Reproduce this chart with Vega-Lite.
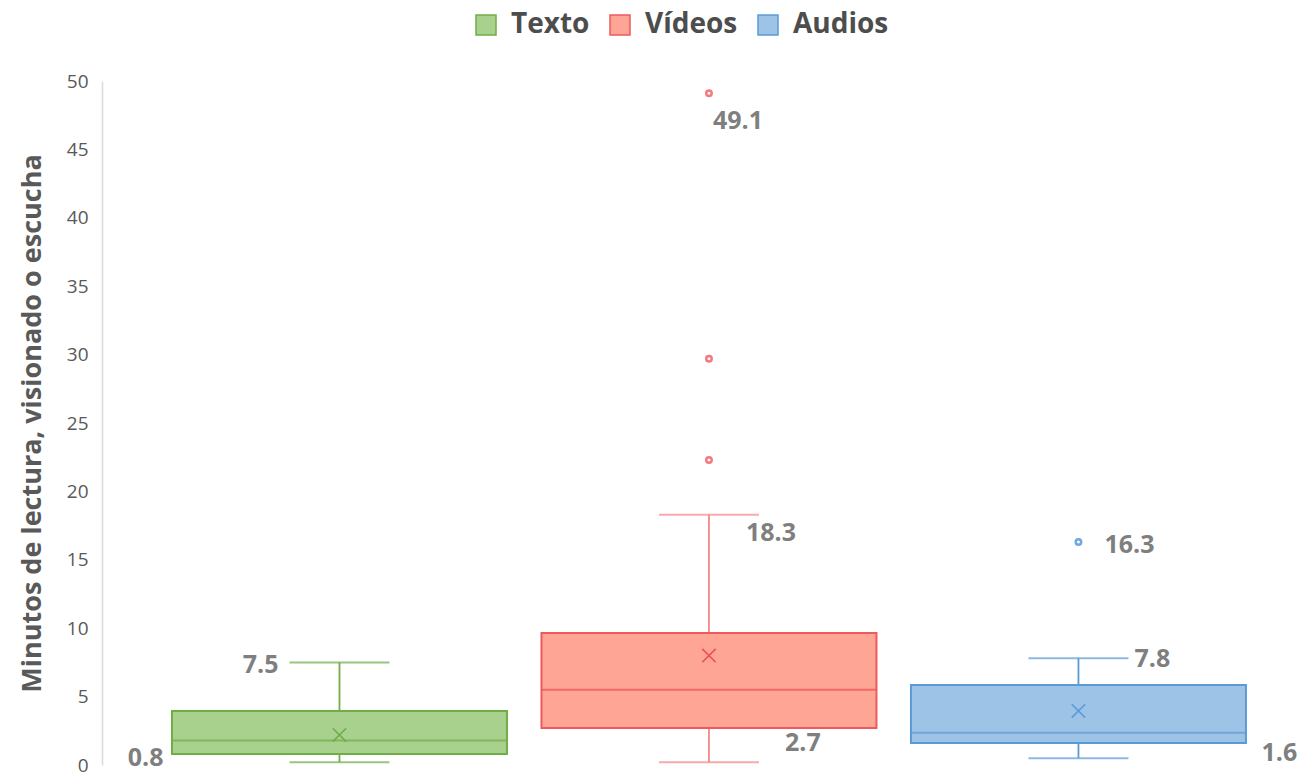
{
  "$schema": "https://vega.github.io/schema/vega-lite/v6.json",
  "width": 1163,
  "height": 684,
  "autosize": {"type": "none"},
  "padding": {"left": 102, "top": 81, "right": 38, "bottom": 11},
  "background": "white",
  "datasets": {
    "summary": [
      {"cat": "Texto", "lower": 0.2, "q1": 0.8, "median": 1.8, "q3": 3.95, "upper": 7.5, "mean": 2.2},
      {"cat": "Vídeos", "lower": 0.2, "q1": 2.7, "median": 5.5, "q3": 9.65, "upper": 18.3, "mean": 8.0},
      {"cat": "Audios", "lower": 0.5, "q1": 1.6, "median": 2.35, "q3": 5.85, "upper": 7.8, "mean": 3.95}
    ],
    "outliers": [
      {"cat": "Vídeos", "value": 22.3},
      {"cat": "Vídeos", "value": 29.7},
      {"cat": "Vídeos", "value": 49.1},
      {"cat": "Audios", "value": 16.3}
    ],
    "labels": [
      {"cat": "Texto", "stat": "q1", "value": 0.8},
      {"cat": "Texto", "stat": "upper", "value": 7.5},
      {"cat": "Vídeos", "stat": "max", "value": 49.1},
      {"cat": "Vídeos", "stat": "upper", "value": 18.3},
      {"cat": "Vídeos", "stat": "q1", "value": 2.7},
      {"cat": "Audios", "stat": "max", "value": 16.3},
      {"cat": "Audios", "stat": "upper", "value": 7.8},
      {"cat": "Audios", "stat": "q1", "value": 1.6}
    ]
  },
  "config": {
    "view": {"stroke": null},
    "font": "Open Sans",
    "axisY": {
      "labelFont": "Open Sans",
      "labelFontSize": 19,
      "labelColor": "#595959",
      "labelPadding": 14,
      "domainColor": "#d9d9d9",
      "domainWidth": 1.5,
      "ticks": false,
      "grid": false,
      "titleFont": "Open Sans",
      "titleFontSize": 27,
      "titleFontWeight": "bold",
      "titleColor": "#595959",
      "titlePadding": 20
    },
    "legend": {
      "labelFont": "Open Sans",
      "labelFontSize": 28,
      "labelFontWeight": "bold",
      "labelColor": "#4d4d4d",
      "symbolType": "square",
      "symbolSize": 400,
      "symbolStrokeWidth": 1.5,
      "labelOffset": 11,
      "columnPadding": 16,
      "padding": 0
    }
  },
  "encoding": {
    "x": {
      "field": "cat",
      "type": "nominal",
      "sort": ["Texto", "Vídeos", "Audios"],
      "scale": {"domain": ["Texto", "Vídeos", "Audios"], "paddingInner": 0.0934, "paddingOuter": 0.1205, "align": 0.786},
      "axis": null
    }
  },
  "layer": [
    {
      "data": {"name": "summary"},
      "mark": {"type": "rule", "strokeWidth": 1.8},
      "encoding": {
        "y": {"field": "lower", "type": "quantitative", "scale": {"domain": [0, 50], "nice": false}, "axis": {"values": [0, 5, 10, 15, 20, 25, 30, 35, 40, 45, 50]}, "title": "Minutos de lectura, visionado o escucha"},
        "y2": {"field": "upper"},
        "color": {"field": "cat", "type": "nominal", "scale": {"domain": ["Texto", "Vídeos", "Audios"], "range": ["#70ad47", "#f4868a", "#5b9bd5"]}, "legend": null}
      }
    },
    {
      "data": {"name": "summary"},
      "mark": {"type": "tick", "size": 100, "thickness": 2},
      "encoding": {
        "y": {"field": "upper", "type": "quantitative", "title": "Minutos de lectura, visionado o escucha"},
        "color": {"field": "cat", "type": "nominal", "scale": {"domain": ["Texto", "Vídeos", "Audios"], "range": ["#70ad47", "#f4868a", "#5b9bd5"]}, "legend": null}
      }
    },
    {
      "data": {"name": "summary"},
      "mark": {"type": "tick", "size": 100, "thickness": 2},
      "encoding": {
        "y": {"field": "lower", "type": "quantitative", "title": "Minutos de lectura, visionado o escucha"},
        "color": {"field": "cat", "type": "nominal", "scale": {"domain": ["Texto", "Vídeos", "Audios"], "range": ["#70ad47", "#f4868a", "#5b9bd5"]}, "legend": null}
      }
    },
    {
      "data": {"name": "summary"},
      "mark": {"type": "bar", "strokeWidth": 2, "opacity": 1},
      "encoding": {
        "y": {"field": "q1", "type": "quantitative", "title": "Minutos de lectura, visionado o escucha"},
        "y2": {"field": "q3"},
        "fill": {"field": "cat", "type": "nominal", "sort": ["Texto", "Vídeos", "Audios"], "scale": {"domain": ["Texto", "Vídeos", "Audios"], "range": ["#a9d18e", "#ffa596", "#9dc3e6"]}, "legend": {"title": null, "orient": "none", "direction": "horizontal", "legendX": 370, "legendY": -70}},
        "stroke": {"field": "cat", "type": "nominal", "sort": ["Texto", "Vídeos", "Audios"], "scale": {"domain": ["Texto", "Vídeos", "Audios"], "range": ["#70ad47", "#f0595c", "#5b9bd5"]}, "legend": {"title": null, "orient": "none", "direction": "horizontal", "legendX": 370, "legendY": -70}}
      }
    },
    {
      "data": {"name": "summary"},
      "mark": {"type": "tick", "size": 335, "thickness": 2},
      "encoding": {
        "y": {"field": "median", "type": "quantitative", "title": "Minutos de lectura, visionado o escucha"},
        "color": {"field": "cat", "type": "nominal", "scale": {"domain": ["Texto", "Vídeos", "Audios"], "range": ["#70ad47", "#ec4f53", "#5b9bd5"]}, "legend": null}
      }
    },
    {
      "data": {"name": "summary"},
      "mark": {"type": "point", "shape": "M-1,-1L1,1M-1,1L1,-1", "filled": false, "size": 180, "strokeWidth": 1.6, "opacity": 1},
      "encoding": {
        "y": {"field": "mean", "type": "quantitative", "title": "Minutos de lectura, visionado o escucha"},
        "color": {"field": "cat", "type": "nominal", "scale": {"domain": ["Texto", "Vídeos", "Audios"], "range": ["#70ad47", "#ec4f53", "#5b9bd5"]}, "legend": null}
      }
    },
    {
      "data": {"name": "outliers"},
      "mark": {"type": "point", "shape": "circle", "filled": false, "size": 30, "strokeWidth": 2.5, "opacity": 1},
      "encoding": {
        "y": {"field": "value", "type": "quantitative", "title": "Minutos de lectura, visionado o escucha"},
        "color": {"field": "cat", "type": "nominal", "scale": {"domain": ["Texto", "Vídeos", "Audios"], "range": ["#70ad47", "#f47a7e", "#6fa8dc"]}, "legend": null}
      }
    },
    {
      "data": {"name": "labels"},
      "transform": [{"filter": "datum.cat === 'Texto' && datum.stat === 'q1'"}],
      "mark": {"type": "text", "align": "right", "baseline": "middle", "dx": -176, "dy": 4, "fontSize": 25, "fontWeight": "bold", "color": "#7f7f7f"},
      "encoding": {"y": {"field": "value", "type": "quantitative", "title": "Minutos de lectura, visionado o escucha"}, "text": {"field": "value", "type": "quantitative", "format": ".1f"}}
    },
    {
      "data": {"name": "labels"},
      "transform": [{"filter": "datum.cat === 'Texto' && datum.stat === 'upper'"}],
      "mark": {"type": "text", "align": "right", "baseline": "middle", "dx": -61, "dy": 3, "fontSize": 25, "fontWeight": "bold", "color": "#7f7f7f"},
      "encoding": {"y": {"field": "value", "type": "quantitative", "title": "Minutos de lectura, visionado o escucha"}, "text": {"field": "value", "type": "quantitative", "format": ".1f"}}
    },
    {
      "data": {"name": "labels"},
      "transform": [{"filter": "datum.cat === 'Vídeos' && datum.stat === 'max'"}],
      "mark": {"type": "text", "align": "left", "baseline": "middle", "dx": 4, "dy": 28, "fontSize": 25, "fontWeight": "bold", "color": "#7f7f7f"},
      "encoding": {"y": {"field": "value", "type": "quantitative", "title": "Minutos de lectura, visionado o escucha"}, "text": {"field": "value", "type": "quantitative", "format": ".1f"}}
    },
    {
      "data": {"name": "labels"},
      "transform": [{"filter": "datum.cat === 'Vídeos' && datum.stat === 'upper'"}],
      "mark": {"type": "text", "align": "left", "baseline": "middle", "dx": 37, "dy": 18, "fontSize": 25, "fontWeight": "bold", "color": "#7f7f7f"},
      "encoding": {"y": {"field": "value", "type": "quantitative", "title": "Minutos de lectura, visionado o escucha"}, "text": {"field": "value", "type": "quantitative", "format": ".1f"}}
    },
    {
      "data": {"name": "labels"},
      "transform": [{"filter": "datum.cat === 'Vídeos' && datum.stat === 'q1'"}],
      "mark": {"type": "text", "align": "left", "baseline": "middle", "dx": 76, "dy": 15, "fontSize": 25, "fontWeight": "bold", "color": "#7f7f7f"},
      "encoding": {"y": {"field": "value", "type": "quantitative", "title": "Minutos de lectura, visionado o escucha"}, "text": {"field": "value", "type": "quantitative", "format": ".1f"}}
    },
    {
      "data": {"name": "labels"},
      "transform": [{"filter": "datum.cat === 'Audios' && datum.stat === 'max'"}],
      "mark": {"type": "text", "align": "left", "baseline": "middle", "dx": 26, "dy": 3, "fontSize": 25, "fontWeight": "bold", "color": "#7f7f7f"},
      "encoding": {"y": {"field": "value", "type": "quantitative", "title": "Minutos de lectura, visionado o escucha"}, "text": {"field": "value", "type": "quantitative", "format": ".1f"}}
    },
    {
      "data": {"name": "labels"},
      "transform": [{"filter": "datum.cat === 'Audios' && datum.stat === 'upper'"}],
      "mark": {"type": "text", "align": "left", "baseline": "middle", "dx": 56, "dy": 1, "fontSize": 25, "fontWeight": "bold", "color": "#7f7f7f"},
      "encoding": {"y": {"field": "value", "type": "quantitative", "title": "Minutos de lectura, visionado o escucha"}, "text": {"field": "value", "type": "quantitative", "format": ".1f"}}
    },
    {
      "data": {"name": "labels"},
      "transform": [{"filter": "datum.cat === 'Audios' && datum.stat === 'q1'"}],
      "mark": {"type": "text", "align": "left", "baseline": "middle", "dx": 183, "dy": 10, "fontSize": 25, "fontWeight": "bold", "color": "#7f7f7f"},
      "encoding": {"y": {"field": "value", "type": "quantitative", "title": "Minutos de lectura, visionado o escucha"}, "text": {"field": "value", "type": "quantitative", "format": ".1f"}}
    }
  ],
  "resolve": {"scale": {"color": "independent"}}
}
